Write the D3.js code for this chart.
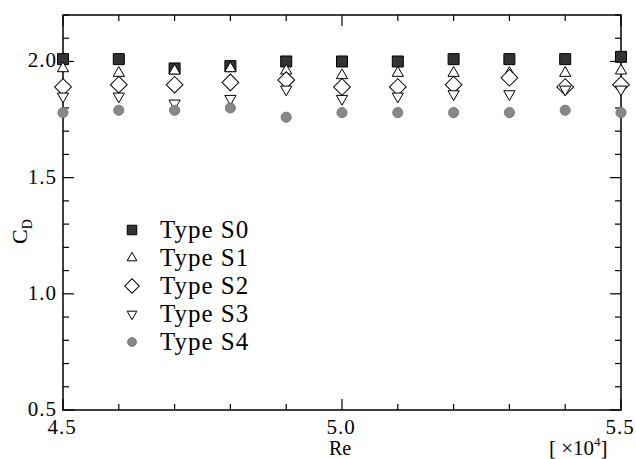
<!DOCTYPE html>
<html>
<head>
<meta charset="utf-8">
<script src="https://cdn.jsdelivr.net/npm/d3@7"></script>
<style>
  html, body { margin: 0; padding: 0; background: #fff; }
  svg { display: block; font-family: "Liberation Serif", "Times New Roman", serif; }
</style>
</head>
<body>
<div id="chart"></div>
<script>
// Reynolds number (x 10^4)
const re = [4.5, 4.6, 4.7, 4.8, 4.9, 5.0, 5.1, 5.2, 5.3, 5.4, 5.5];

// drag coefficient per model type
const typeS0 = [2.01, 2.01, 1.97, 1.98, 2.00, 2.00, 2.00, 2.01, 2.01, 2.01, 2.02];
const typeS1 = [1.97, 1.95, 1.96, 1.97, 1.96, 1.94, 1.95, 1.95, 1.95, 1.95, 1.96];
const typeS2 = [1.89, 1.90, 1.90, 1.91, 1.92, 1.89, 1.89, 1.90, 1.93, 1.89, 1.90];
const typeS3 = [1.85, 1.85, 1.82, 1.84, 1.88, 1.84, 1.85, 1.86, 1.86, 1.88, 1.88];
const typeS4 = [1.78, 1.79, 1.79, 1.80, 1.76, 1.78, 1.78, 1.78, 1.78, 1.79, 1.78];

const seriesNames = ['Type S0', 'Type S1', 'Type S2', 'Type S3', 'Type S4'];
const seriesValues = [typeS0, typeS1, typeS2, typeS3, typeS4];

const xMajor = [4.5, 5.0, 5.5];
const yMajor = [0.5, 1.0, 1.5, 2.0];

const width = 636, height = 459;
const plotLeft = 63, plotRight = 621, plotTop = 15, plotBottom = 410;

const svg = d3.select('#chart').append('svg')
  .attr('width', width)
  .attr('height', height);

const x = d3.scaleLinear().domain([4.5, 5.5]).range([plotLeft, plotRight]);
const y = d3.scaleLinear().domain([0.5, 2.2]).range([plotBottom, plotTop]);

const ink = '#000';

// minor / major ticks, all pointing inward
const xMinor = d3.range(45, 56).map(d => d / 10);
const yMinor = d3.range(5, 23).map(d => d / 10);
const isMajor = v => Math.abs(v * 2 - Math.round(v * 2)) < 1e-6;

const ticks = svg.append('g').attr('stroke', ink).attr('stroke-width', 1.2);
xMinor.forEach(v => {
  const len = isMajor(v) ? 11 : 6;
  ticks.append('line').attr('x1', x(v)).attr('x2', x(v)).attr('y1', plotBottom).attr('y2', plotBottom - len);
  ticks.append('line').attr('x1', x(v)).attr('x2', x(v)).attr('y1', plotTop).attr('y2', plotTop + len);
});
yMinor.forEach(v => {
  const len = isMajor(v) ? 11 : 6;
  ticks.append('line').attr('x1', plotLeft).attr('x2', plotLeft + len).attr('y1', y(v)).attr('y2', y(v));
  ticks.append('line').attr('x1', plotRight).attr('x2', plotRight - len).attr('y1', y(v)).attr('y2', y(v));
});

// frame
svg.append('rect')
  .attr('x', plotLeft).attr('y', plotTop)
  .attr('width', plotRight - plotLeft).attr('height', plotBottom - plotTop)
  .attr('fill', 'none').attr('stroke', ink).attr('stroke-width', 1.5);

// tick labels
svg.append('g').selectAll('text').data(yMajor).join('text')
  .attr('x', plotLeft - 6)
  .attr('y', d => y(d) + 6)
  .attr('text-anchor', 'end')
  .attr('font-size', 21)
  .attr('letter-spacing', 1)
  .attr('fill', ink)
  .text(d => d.toFixed(1));

svg.append('g').selectAll('text').data(xMajor).join('text')
  .attr('x', d => x(d) - 1)
  .attr('y', 434)
  .attr('text-anchor', 'middle')
  .attr('font-size', 21)
  .attr('letter-spacing', 1)
  .attr('fill', ink)
  .text(d => d.toFixed(1));

// axis titles
svg.append('text')
  .attr('x', 340).attr('y', 455)
  .attr('text-anchor', 'middle')
  .attr('font-size', 20)
  .attr('fill', ink)
  .text('Re');

const unit = svg.append('text')
  .attr('x', 549).attr('y', 455)
  .attr('font-size', 21)
  .attr('fill', ink);
unit.append('tspan').text('[ ×10');
unit.append('tspan').attr('dy', -9).attr('font-size', 13).text('4');
unit.append('tspan').attr('dy', 9).text(']');

const cd = svg.append('text')
  .attr('transform', 'translate(27,244) rotate(-90)')
  .attr('font-size', 22)
  .attr('fill', ink);
cd.append('tspan').text('C');
cd.append('tspan').attr('dy', 5).attr('font-size', 14).text('D');

// marker shapes
const shapes = [
  { type: d3.symbolSquare, size: 121, rot: 0, fill: '#333' },
  { type: d3.symbolTriangle, size: 55, rot: 0, fill: '#fff' },
  { type: d3.symbolSquare, size: 140, rot: 45, fill: '#fff' },
  { type: d3.symbolTriangle, size: 55, rot: 180, fill: '#fff' },
  { type: d3.symbolCircle, size: 80, rot: 0, fill: '#888', stroke: '#777' }
];

seriesValues.forEach((vals, i) => {
  const s = shapes[i];
  svg.append('g').selectAll('path')
    .data(re.map((r, j) => ({ r, v: vals[j] })))
    .join('path')
    .attr('d', d3.symbol().type(s.type).size(s.size))
    .attr('transform', d => `translate(${x(d.r)},${y(d.v)}) rotate(${s.rot})`)
    .attr('fill', s.fill)
    .attr('stroke', s.stroke || ink)
    .attr('stroke-width', 1);
});

// legend
const legend = svg.append('g').attr('transform', 'translate(132,230)');
seriesNames.forEach((name, i) => {
  const s = shapes[i];
  const row = legend.append('g').attr('transform', `translate(0,${i * 28})`);
  row.append('path')
    .attr('d', d3.symbol().type(s.type).size(s.size * 0.75))
    .attr('transform', `rotate(${s.rot})`)
    .attr('fill', s.fill)
    .attr('stroke', s.stroke || ink)
    .attr('stroke-width', 1);
  row.append('text')
    .attr('x', 28).attr('y', 8)
    .attr('font-size', 25)
    .attr('letter-spacing', 1)
    .attr('fill', ink)
    .text(name);
});
</script>
</body>
</html>
